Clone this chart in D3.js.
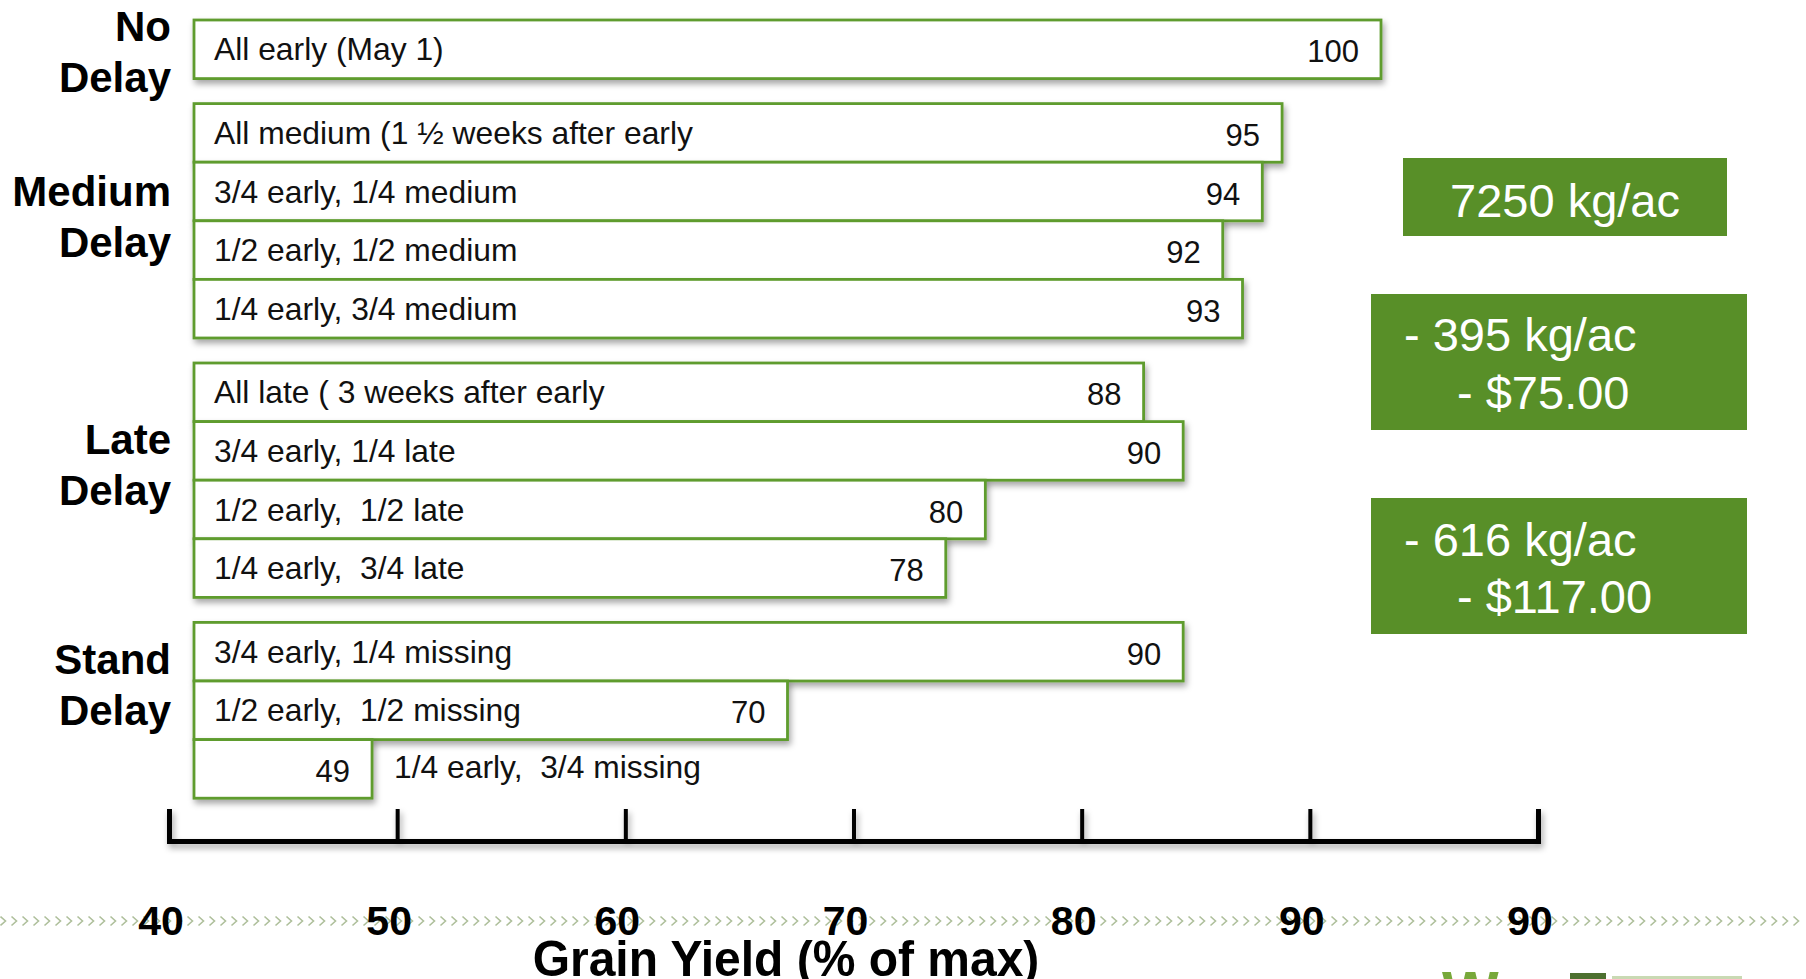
<!DOCTYPE html>
<html>
<head>
<meta charset="utf-8">
<script src="https://cdn.jsdelivr.net/npm/d3@7"></script>
<style>
  html, body { margin: 0; padding: 0; background: #fff; overflow: hidden; }
  svg { display: block; font-family: "Liberation Sans", Arial, Helvetica, sans-serif; }
</style>
</head>
<body>
<svg id="chart"></svg>
<script>
// Data
const groupNames = [["No", "Delay"], ["Medium", "Delay"], ["Late", "Delay"], ["Stand", "Delay"]];
const treatments = [
    "All early (May 1)",
    "All medium (1 ½ weeks after early",
    "3/4 early, 1/4 medium",
    "1/2 early, 1/2 medium",
    "1/4 early, 3/4 medium",
    "All late ( 3 weeks after early",
    "3/4 early, 1/4 late",
    "1/2 early,  1/2 late",
    "1/4 early,  3/4 late",
    "3/4 early, 1/4 missing",
    "1/2 early,  1/2 missing",
    "1/4 early,  3/4 missing"
];
const treatmentGroup = [0, 1, 1, 1, 1, 2, 2, 2, 2, 3, 3, 3];
const yieldPct = [100, 95, 94, 92, 93, 88, 90, 80, 78, 90, 70, 49];
const axisTicks = [40, 50, 60, 70, 80, 90, 100];
const axisTickLabels = ["40", "50", "60", "70", "80", "90", "90"];
const axisTitle = "Grain Yield (% of max)";
const calloutLines = [["7250 kg/ac"], ["- 395 kg/ac", "- $75.00"], ["- 616 kg/ac", "- $117.00"]];

const width = 1806;
const height = 979;
const green = "#588f28";
const border = "#5e9c2e";

const svg = d3.select("#chart")
    .attr("width", width)
    .attr("height", height)
    .attr("viewBox", [0, 0, width, height]);

const defs = svg.append("defs");
defs.append("filter")
    .attr("id", "shadow")
    .attr("x", "-5%").attr("y", "-30%")
    .attr("width", "112%").attr("height", "180%")
    .append("feDropShadow")
    .attr("dx", 2).attr("dy", 4)
    .attr("stdDeviation", 3)
    .attr("flood-color", "#000")
    .attr("flood-opacity", 0.35);

// scales
const barBase = 40;
const x = d3.scaleLinear().domain([barBase, 100]).range([194, 1381]);
const axisX = d3.scaleLinear().domain([40, 100]).range([169, 1538]);

const rowStep = 58.6, groupGap = 25, topY = 20;
const slot = i => i + treatmentGroup[i] * groupGap / rowStep;
const y = d3.scaleLinear().domain([0, 1]).range([topY, topY + rowStep]);

// decorative chevron rule of the slide footer
svg.append("g")
    .attr("fill", "none")
    .attr("stroke", "#aebf9b")
    .attr("stroke-width", 1.6)
    .selectAll("path")
    .data(d3.range(3, width, 11))
    .join("path")
    .attr("d", d => `M${d - 2.5},916.5 L${d + 2.5},921 L${d - 2.5},925.5`);

// bars
const bars = svg.append("g");
treatments.forEach((name, i) => {
    const yc = y(slot(i)) + rowStep / 2;
    const g = bars.append("g");
    g.append("rect")
        .attr("x", x(barBase))
        .attr("y", y(slot(i)))
        .attr("width", x(yieldPct[i]) - x(barBase))
        .attr("height", rowStep)
        .attr("fill", "#fff")
        .attr("stroke", border)
        .attr("stroke-width", 2.8)
        .attr("filter", "url(#shadow)");
    g.append("text")
        .attr("x", x(yieldPct[i]) - 22)
        .attr("y", yc + 13)
        .attr("text-anchor", "end")
        .attr("font-size", 31)
        .attr("fill", "#111")
        .text(yieldPct[i]);
    const label = g.append("text")
        .attr("x", x(barBase) + 20)
        .attr("y", yc + 11)
        .attr("font-size", 31.8)
        .attr("fill", "#111")
        .style("white-space", "pre")
        .text(name);
    const room = x(yieldPct[i]) - x(barBase) - 90;
    if (label.node().getComputedTextLength() > room) {
        label.attr("x", x(yieldPct[i]) + 22).attr("y", yc + 9);
    }
});

// group labels
groupNames.forEach((lines, gi) => {
    const idx = d3.range(treatments.length).filter(i => treatmentGroup[i] === gi);
    const y0 = y(slot(idx[0]));
    const y1 = y(slot(idx[idx.length - 1])) + rowStep;
    const c = (y0 + y1) / 2;
    const base = c * 0.958 - 6;
    svg.append("text")
        .attr("text-anchor", "end")
        .attr("font-size", 42)
        .attr("font-weight", "bold")
        .attr("fill", "#000")
        .selectAll("tspan")
        .data(lines)
        .join("tspan")
        .attr("x", 171)
        .attr("y", (d, k) => base + k * 51)
        .text(d => d);
});

// axis
svg.append("g")
    .attr("transform", "translate(0,841)")
    .attr("filter", "url(#shadow)")
    .call(d3.axisTop(axisX)
        .tickValues(axisTicks)
        .tickSize(32)
        .tickSizeOuter(32)
        .tickFormat(""))
    .call(g => g.select(".domain").attr("stroke", "#000").attr("stroke-width", 5))
    .call(g => g.selectAll(".tick line").attr("stroke", "#000").attr("stroke-width", 4));

svg.append("g")
    .attr("font-size", 41)
    .attr("font-weight", "bold")
    .attr("text-anchor", "middle")
    .selectAll("text")
    .data(axisTicks)
    .join("text")
    .attr("x", d => axisX(d) - 8)
    .attr("y", 935)
    .text((d, i) => axisTickLabels[i]);

svg.append("text")
    .attr("transform", "translate(786,976) scale(1,1.05)")
    .attr("text-anchor", "middle")
    .attr("font-size", 48)
    .attr("font-weight", "bold")
    .text(axisTitle);

// callout boxes
const boxes = [
    {x0: 1403, x1: 1727, y0: 158, y1: 236, anchor: "middle", tx: [1565], ty: [217]},
    {x0: 1371, x1: 1747, y0: 294, y1: 430, anchor: "start", tx: [1404, 1457], ty: [351, 409]},
    {x0: 1371, x1: 1747, y0: 498, y1: 634, anchor: "start", tx: [1404, 1457], ty: [556, 613]}
];
calloutLines.forEach((lines, bi) => {
    const b = boxes[bi];
    svg.append("rect")
        .attr("x", b.x0).attr("y", b.y0)
        .attr("width", b.x1 - b.x0).attr("height", b.y1 - b.y0)
        .attr("fill", green);
    svg.append("g")
        .attr("fill", "#fff")
        .attr("font-size", 47)
        .attr("text-anchor", b.anchor)
        .selectAll("text")
        .data(lines)
        .join("text")
        .attr("x", (d, k) => b.tx[k])
        .attr("y", (d, k) => b.ty[k])
        .text(d => d);
});

// cut-off logo at the bottom edge
svg.append("text")
    .attr("x", 1442).attr("y", 1013)
    .attr("font-size", 60).attr("font-weight", "bold")
    .attr("fill", "#78a83a")
    .text("W");
svg.append("rect")
    .attr("x", 1570).attr("y", 973).attr("width", 36).attr("height", 10)
    .attr("fill", "#4d7030");
svg.append("rect")
    .attr("x", 1612).attr("y", 976).attr("width", 130).attr("height", 5)
    .attr("fill", "#c9d9b3");
</script>
</body>
</html>
